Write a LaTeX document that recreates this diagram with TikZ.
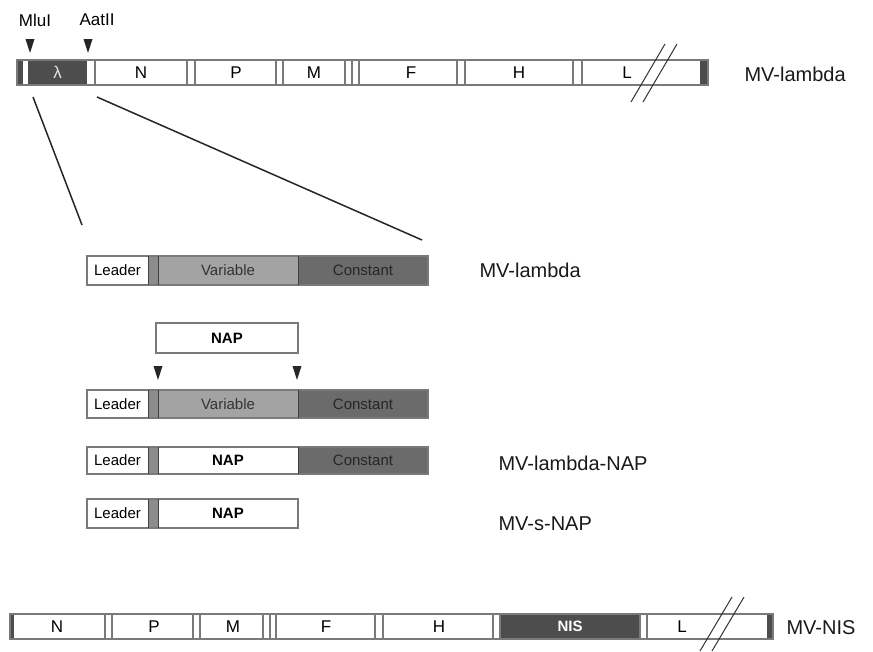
\documentclass[tikz,border=0pt]{standalone}
\usepackage{fontspec}
\setmainfont{Liberation Sans}
\usetikzlibrary{positioning}
\definecolor{darkseg}{HTML}{4D4D4D}
\definecolor{varseg}{HTML}{A3A3A3}
\definecolor{constseg}{HTML}{6B6B6B}
\definecolor{spacer}{HTML}{8C8C8C}
\definecolor{rim}{HTML}{7A7A7A}
\newcommand{\cutsite}[2]{\fill[black!85] (#1-4.5,#2) -- (#1+4.5,#2) -- (#1,#2+14) -- cycle;}

\begin{document}
\begin{tikzpicture}[
  x=1pt, y=-1pt,
  genebox/.style={inner sep=0pt, minimum height=25, font=\fontsize{17}{17}\selectfont},
  partbox/.style={inner sep=0pt, minimum height=28, font=\fontsize{15}{15}\selectfont},
  barlabel/.style={anchor=west, font=\fontsize{20}{20}\selectfont, text=black!90},
  sitelabel/.style={font=\fontsize{17}{17}\selectfont},
  rimbox/.style={draw=rim, line width=1.4pt},
  genesep/.style={draw=rim, line width=1.2pt},
  partsep/.style={draw=black!75, line width=1pt}
]
  \useasboundingbox (0,0) rectangle (873,651);

  % genome with lambda insert
  \node[sitelabel] (mlu) at (35,20) {MluI};
  \node[sitelabel] (aat) at (97,20) {AatII};
  \cutsite{30}{39}
  \cutsite{88}{39}
  \node[genebox, fill=darkseg, minimum width=6] (lend) at (20,72.5) {};
  \node[genebox, fill=darkseg, minimum width=59, text=white!90!black] (lam) at (57.5,72.5) {λ};
  \node[genebox] (gN) at (141,72.5) {N};
  \node[genebox] (gP) at (236,72.5) {P};
  \node[genebox] (gM) at (314,72.5) {M};
  \node[genebox] (gF) at (411,72.5) {F};
  \node[genebox] (gH) at (519,72.5) {H};
  \node[genebox] (gL) at (627,72.5) {L};
  \node[genebox, fill=darkseg, minimum width=8] (rend) at (704,72.5) {};
  \draw[rimbox] (17,60) rectangle (708,85);
  \foreach \x in {95,187,195,276,283,345,352,359,457,465,573,582}
    \draw[genesep] (\x,60) -- (\x,85);
  \draw[black!80, line width=1pt] (631,102) -- (665,44);
  \draw[black!80, line width=1pt] (643,102) -- (677,44);
  \node[barlabel] (mvl) at (741,74) {MV-lambda};

  % zoom lines
  \coordinate (za) at (33,97);
  \coordinate (zb) at (97,97);
  \coordinate (zc) at (82,225);
  \coordinate (zd) at (422,240);
  \draw[black!85, line width=1.5pt] (za) -- (zc);
  \draw[black!85, line width=1.5pt] (zb) -- (zd);

  % MV-lambda construct
  \node[partbox, minimum width=61] (lead1) at (117.5,270.5) {Leader};
  \node[partbox, fill=spacer, minimum width=10] (sp1) at (153,270.5) {};
  \node[partbox, fill=varseg, minimum width=140, text=black!80] (var1) at (228,270.5) {Variable};
  \node[partbox, fill=constseg, minimum width=130, text=black!85] (con1) at (363,270.5) {Constant};
  \draw[rimbox] (87,256) rectangle (428,285);
  \foreach \x in {148,158,298} \draw[partsep] (\x,256) -- (\x,285);
  \node[barlabel] (lbl1) at (476,270) {MV-lambda};

  % NAP insert
  \node[partbox, draw=rim, line width=1.4pt, minimum width=142, minimum height=30,
        font=\fontsize{15}{15}\bfseries] (nap) at (227,338) {NAP};
  \cutsite{158}{366}
  \cutsite{297}{366}

  % construct cut
  \node[partbox, minimum width=61] (lead2) at (117.5,404) {Leader};
  \node[partbox, fill=spacer, minimum width=10] (sp2) at (153,404) {};
  \node[partbox, fill=varseg, minimum width=140, text=black!80] (var2) at (228,404) {Variable};
  \node[partbox, fill=constseg, minimum width=130, text=black!85] (con2) at (363,404) {Constant};
  \draw[rimbox] (87,390) rectangle (428,418);
  \foreach \x in {148,158,298} \draw[partsep] (\x,390) -- (\x,418);

  % MV-lambda-NAP
  \node[partbox, minimum width=61] (lead3) at (117.5,460.5) {Leader};
  \node[partbox, fill=spacer, minimum width=10] (sp3) at (153,460.5) {};
  \node[partbox, minimum width=140, font=\fontsize{15}{15}\bfseries] (nap3) at (228,460.5) {NAP};
  \node[partbox, fill=constseg, minimum width=130, text=black!85] (con3) at (363,460.5) {Constant};
  \draw[rimbox] (87,447) rectangle (428,474);
  \foreach \x in {148,158,298} \draw[partsep] (\x,447) -- (\x,474);
  \node[barlabel] (lbl3) at (495,463) {MV-lambda-NAP};

  % MV-s-NAP
  \node[partbox, minimum width=61] (lead4) at (117.5,513.5) {Leader};
  \node[partbox, fill=spacer, minimum width=10] (sp4) at (153,513.5) {};
  \node[partbox, minimum width=140, font=\fontsize{15}{15}\bfseries] (nap4) at (228,513.5) {NAP};
  \draw[rimbox] (87,499) rectangle (298,528);
  \foreach \x in {148,158} \draw[partsep] (\x,499) -- (\x,528);
  \node[barlabel] (lbl4) at (495,524) {MV-s-NAP};

  % genome with NIS
  \node[genebox, fill=darkseg, minimum width=4] (nend) at (12,626.5) {};
  \node[genebox] (nN) at (57,626.5) {N};
  \node[genebox] (nP) at (154,626.5) {P};
  \node[genebox] (nM) at (233,626.5) {M};
  \node[genebox] (nF) at (326,626.5) {F};
  \node[genebox] (nH) at (439,626.5) {H};
  \node[genebox, fill=darkseg, minimum width=140, text=white,
        font=\fontsize{15}{15}\bfseries] (nis) at (570,626.5) {NIS};
  \node[genebox] (nL) at (682,626.5) {L};
  \node[genebox, fill=darkseg, minimum width=6] (nrend) at (770,626.5) {};
  \draw[rimbox] (10,614) rectangle (773,639);
  \foreach \x in {105,112,193,200,263,270,276,375,383,493,500,640,647}
    \draw[genesep] (\x,614) -- (\x,639);
  \draw[black!80, line width=1pt] (700,651) -- (732,597);
  \draw[black!80, line width=1pt] (712,651) -- (744,597);
  \node[barlabel] (mvn) at (783,628) {MV-NIS};
\end{tikzpicture}
\end{document}
